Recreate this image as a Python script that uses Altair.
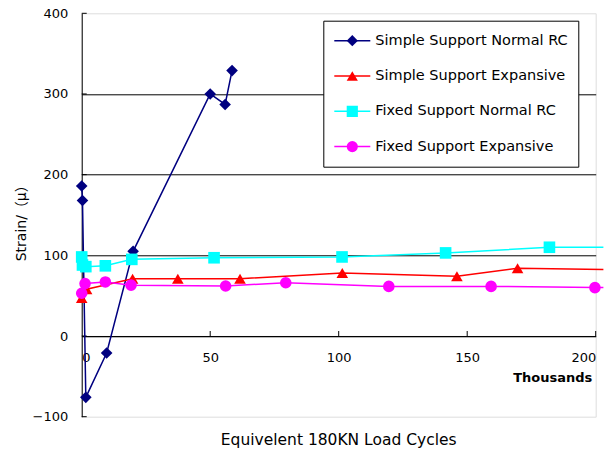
import altair as alt
import pandas as pd

names = ["Simple Support Normal RC", "Simple Support Expansive",
         "Fixed Support Normal RC", "Fixed Support Expansive"]
colors = ["#000080", "#FF0000", "#00FFFF", "#FF00FF"]
shapes = ["diamond", "triangle-up", "square", "circle"]

# x in thousands of load cycles, y strain
ssn_x = [0, 0.3, 1.6, 9.7, 20, 50, 55.8, 58.5]
ssn_y = [186, 168, -76, -21, 105, 300, 287, 329]

sse_x = [0, 1.9, 19.8, 37.4, 61.6, 101.4, 146, 169.6, 203]
sse_y = [47, 58, 71, 71, 71, 78, 74, 84, 82.5]

fsn_x = [0, 0.3, 1.6, 9.2, 19.5, 51.5, 101.3, 141.6, 182, 203]
fsn_y = [98, 88, 86, 87, 95, 97, 98, 103, 110, 110]

fse_x = [0, 1.3, 9.2, 19.2, 56, 79.4, 119.5, 159.3, 199.7, 203]
fse_y = [53, 65, 67, 63, 62, 66, 61.5, 61.5, 60, 60]

x_ticks = [0, 50, 100, 150, 200]
y_ticks = [-100, 0, 100, 200, 300, 400]

FONT = "DejaVu Sans, Noto Sans CJK JP"

rows = []
i = 0
for name, xs, ys in zip(names, [ssn_x, sse_x, fsn_x, fse_x], [ssn_y, sse_y, fsn_y, fse_y]):
    for xv, yv in zip(xs, ys):
        rows.append({"series": name, "series2": name, "x": xv, "y": yv, "i": i})
        i += 1
df = pd.DataFrame(rows)

xscale = alt.Scale(domain=[0, 200], nice=False, zero=False)
yscale = alt.Scale(domain=[-100, 400], nice=False, zero=False)

x_axis = alt.Axis(values=x_ticks, grid=False, ticks=False, tickSize=0,
                  domainColor="black", domainWidth=1, offset=-80.7,
                  labelPadding=16, labelFont=FONT, labelFontSize=13, labelColor="black",
                  title="Thousands", titleFont=FONT, titleFontSize=13, titleFontWeight="bold",
                  titleColor="black", titleX=510, titleY=41.5, titleAlign="right",
                  titleBaseline="middle")
y_axis = alt.Axis(values=y_ticks, grid=True, gridColor="black", gridWidth=1,
                  gridOpacity={"condition": {"test": "datum.value == 400 || datum.value == -100", "value": 0}, "value": 1},
                  ticks=False, tickSize=0, domainColor="black", domainWidth=1,
                  labelPadding=14, labelFont=FONT, labelFontSize=13, labelColor="black",
                  title="Strain/（μ）", titleFont=FONT, titleFontSize=14, titleFontWeight="normal",
                  titleColor="black", titleX=-60, titleY=206, titleAngle=270,
                  titleAlign="center", titleBaseline="middle")

LEG_X = 241.6
LEG_Y = 7.4

lines = alt.Chart(df).mark_line(strokeWidth=1.5).encode(
    x=alt.X("x:Q", scale=xscale, axis=x_axis),
    y=alt.Y("y:Q", scale=yscale, axis=y_axis),
    stroke=alt.Stroke("series:N", sort=names, scale=alt.Scale(range=colors),
                      legend=alt.Legend(title=None, orient="none", legendX=LEG_X, legendY=LEG_Y,
                                        symbolType="stroke", symbolSize=1296, symbolStrokeWidth=1.5,
                                        labelFont=FONT, labelFontSize=14.5, labelColor="black",
                                        labelLimit=400, padding=10, columnPadding=0,
                                        clipHeight=20, rowPadding=15.3,
                                        strokeColor="black", fillColor="white", zindex=1)),
    order=alt.Order("i:Q"),
)

pt_legend = alt.Legend(title=None, orient="none", legendX=LEG_X, legendY=LEG_Y,
                       symbolSize=125, symbolStrokeWidth=0, symbolOffset=11.75,
                       labelFont=FONT, labelFontSize=14.5, labelExpr="''",
                       labelLimit=400, padding=10, clipHeight=20, rowPadding=15.3,
                       zindex=2)

points = alt.Chart(df).transform_filter(alt.datum.x <= 200).mark_point(
    filled=True, opacity=1, size=135).encode(
    x=alt.X("x:Q", scale=xscale),
    y=alt.Y("y:Q", scale=yscale),
    fill=alt.Fill("series2:N", scale=alt.Scale(domain=names, range=colors), legend=pt_legend),
    shape=alt.Shape("series2:N", scale=alt.Scale(domain=names, range=shapes), legend=pt_legend),
)

xt = pd.DataFrame({"v": x_ticks[1:]})
yt = pd.DataFrame({"v": y_ticks})

xtick_rules = alt.Chart(xt).mark_rule(color="black", strokeWidth=1, y2Offset=-5).encode(
    x=alt.X("v:Q", scale=xscale),
    y=alt.datum(0, scale=yscale),
    y2=alt.datum(0),
)
ytick_rules = alt.Chart(yt).mark_rule(color="black", strokeWidth=1, x2Offset=5).encode(
    y=alt.Y("v:Q", scale=yscale),
    x=alt.datum(0, scale=xscale),
    x2=alt.datum(0),
)

chart = alt.layer(xtick_rules, ytick_rules, lines, points).properties(
    width=514, height=403.4,
    autosize=alt.AutoSizeParams(type="none"),
    padding={"left": 73.7, "top": 5.3, "right": 8.3, "bottom": 31},
    title=alt.TitleParams("Equivelent 180KN Load Cycles", orient="bottom", font=FONT,
                          fontSize=15.5, fontWeight="normal", color="black", offset=9),
).configure_view(stroke="#808080", strokeWidth=1).configure(background="white")

chart.save("out.html", embed_options={"renderer": "svg", "actions": False})
